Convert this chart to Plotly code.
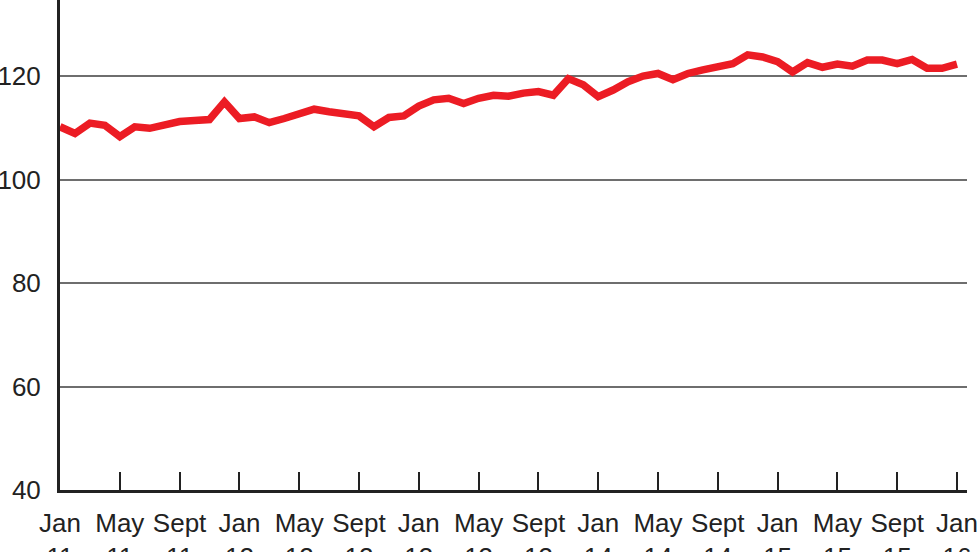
import plotly.graph_objects as go

month_names = ["Jan", "Feb", "Mar", "Apr", "May", "Jun", "Jul", "Aug", "Sept", "Oct", "Nov", "Dec"]
months = [f"{m} {y}" for y in range(2011, 2016) for m in month_names] + ["Jan 2016"]

values = [
    110.2, 108.9, 110.9, 110.5, 108.3, 110.2, 109.9, 110.7, 111.2, 111.4, 111.6, 115.0,
    111.8, 112.1, 111.0, 111.8, 112.8, 113.6, 113.1, 112.6, 112.3, 110.2, 112.0, 112.3,
    114.2, 115.4, 115.7, 114.7, 115.7, 116.3, 116.1, 116.7, 117.0, 116.3, 119.5, 118.3,
    116.0, 117.3, 118.9, 120.0, 120.5, 119.3, 120.5, 121.2, 121.7, 122.4, 124.1, 123.7,
    122.8, 120.8, 122.6, 121.7, 122.3, 121.9, 123.1, 123.1, 122.4, 123.2, 121.5, 121.5,
    122.3,
]

tick_months = months[::4]
tick_labels = [f"{m.split()[0]}<br>{m.split()[1][2:]}" for m in tick_months]
y_ticks = [40, 60, 80, 100, 120, 140]

fig = go.Figure(go.Scatter(
    x=months, y=values, mode="lines",
    line=dict(color="#ec1c24", width=7.5),
    hoverinfo="skip",
))

fig.update_layout(
    width=980, height=552,
    margin=dict(l=60, r=13, t=0, b=62, autoexpand=False),
    paper_bgcolor="white", plot_bgcolor="white",
    showlegend=False,
    font=dict(family="Liberation Sans, Arial, sans-serif", size=26, color="#222222"),
)
fig.update_xaxes(
    type="category", categoryorder="array", categoryarray=months,
    range=[0, 60.67], automargin=False,
    tickmode="array", tickvals=tick_months, ticktext=tick_labels,
    ticks="inside", ticklen=18, tickwidth=2, tickcolor="#222222",
    showline=True, linecolor="#222222", linewidth=3,
    showgrid=False, zeroline=False,
    ticklabelstandoff=8,
)
fig.update_yaxes(
    range=[40, 134.7], automargin=False,
    tickmode="array", tickvals=y_ticks,
    showline=True, linecolor="#222222", linewidth=3,
    showgrid=True, gridcolor="#6e6e6e", gridwidth=2,
    zeroline=False, ticks="", ticklabelstandoff=11,
)

fig.write_html(
    "out.html",
    config={"displayModeBar": False, "staticPlot": True},
    post_script="document.body.style.margin='0';document.body.style.overflow='hidden';",
)
